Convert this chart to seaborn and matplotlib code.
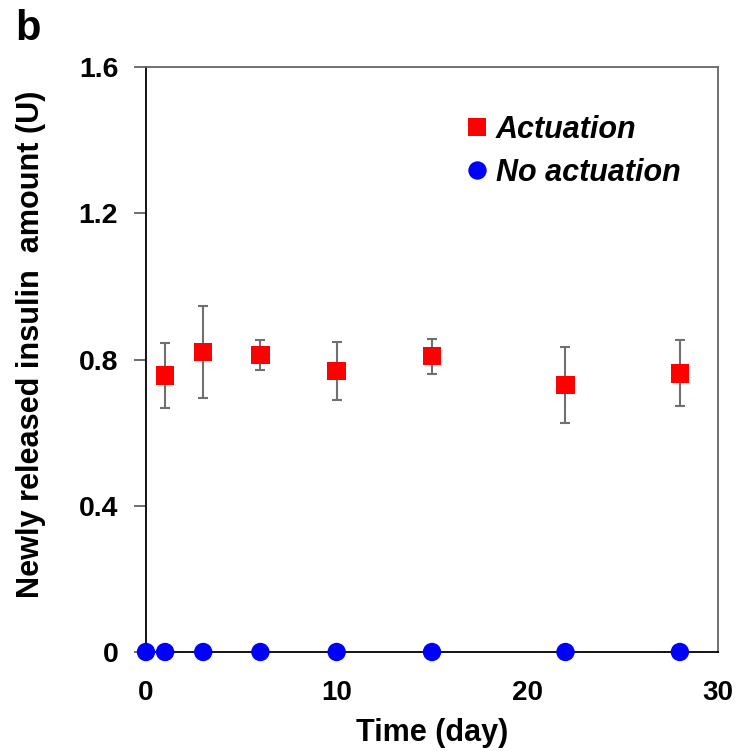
import matplotlib
matplotlib.use("Agg")
import matplotlib.pyplot as plt
import seaborn as sns
import pandas as pd

# Data
act_days = [1, 3, 6, 10, 15, 22, 28]
act_values = [0.756, 0.820, 0.812, 0.768, 0.809, 0.730, 0.762]
act_errors = [0.088, 0.125, 0.040, 0.080, 0.048, 0.105, 0.090]
noact_days = [0, 1, 3, 6, 10, 15, 22, 28]
noact_values = [0, 0, 0, 0, 0, 0, 0, 0]
x_ticks = [0, 10, 20, 30]
y_ticks = [0, 0.4, 0.8, 1.2, 1.6]
y_tick_labels = ["0", "0.4", "0.8", "1.2", "1.6"]

sns.set_style("white")
plt.rcParams['font.family'] = ['Liberation Sans', 'DejaVu Sans']
plt.rcParams['font.weight'] = 'bold'
plt.rcParams['text.color'] = 'black'
plt.rcParams['xtick.color'] = 'black'
plt.rcParams['ytick.color'] = 'black'
plt.rcParams['axes.labelcolor'] = 'black'

df = pd.concat([
    pd.DataFrame({"day": act_days, "value": act_values, "group": "Actuation"}),
    pd.DataFrame({"day": noact_days, "value": noact_values, "group": "No actuation"}),
], ignore_index=True)

fig = plt.figure(figsize=(7.36, 7.51), dpi=100)
ax = fig.add_axes([146/736, 1 - 652/751, (718-146)/736, (652-67)/751])

ax.errorbar(act_days, act_values, yerr=act_errors, fmt='none', ecolor='#707070',
            elinewidth=1.5, capsize=3.5, capthick=1.5, zorder=2)

sns.scatterplot(data=df, x="day", y="value", hue="group", style="group",
                palette={"Actuation": "#ff0000", "No actuation": "#0000ff"},
                markers={"Actuation": "s", "No actuation": "o"},
                s=175, edgecolor='none', linewidth=0, ax=ax, zorder=3, clip_on=False)

ax.set_xlim(0, 30)
ax.set_ylim(0, 1.6)
ax.set_xticks(x_ticks)
ax.set_yticks(y_ticks)
ax.set_yticklabels(y_tick_labels)
ax.tick_params(axis='x', direction='in', length=9, width=1.2, labelsize=20, pad=20,
               color='black', labelcolor='black')
ax.tick_params(axis='y', direction='out', length=9, width=1.2, labelsize=20.5, pad=11,
               color='#555555', labelcolor='black', left=True)
for lab in ax.get_xticklabels() + ax.get_yticklabels():
    lab.set_fontweight('bold')

for side in ['left', 'bottom']:
    ax.spines[side].set_color('black')
    ax.spines[side].set_linewidth(1.3)
for side in ['top', 'right']:
    ax.spines[side].set_color('#666666')
    ax.spines[side].set_linewidth(1.3)
    ax.spines[side].set_visible(True)

ax.set_xlabel("Time (day)", fontsize=22, fontweight='bold', labelpad=9, color='black')
ax.set_ylabel("Newly released insulin  amount (U)", fontsize=22.1, fontweight='bold',
              color='black')
ax.yaxis.set_label_coords(-0.174, 0.526)

leg = ax.legend(loc='upper left', bbox_to_anchor=(0.51, 0.965), frameon=False,
                prop={'size': 22, 'weight': 'bold', 'style': 'italic'},
                handlelength=0.8, handletextpad=0.2, labelspacing=0.42, markerscale=1.0)
for h in leg.legend_handles:
    try:
        h.set_sizes([150])
    except Exception:
        pass
for t in leg.get_texts():
    t.set_color('black')

fig.text(15/736, 1 - 40/751, "b", fontsize=30, fontweight='bold', color='black')

fig.savefig("out.png", dpi=100)
